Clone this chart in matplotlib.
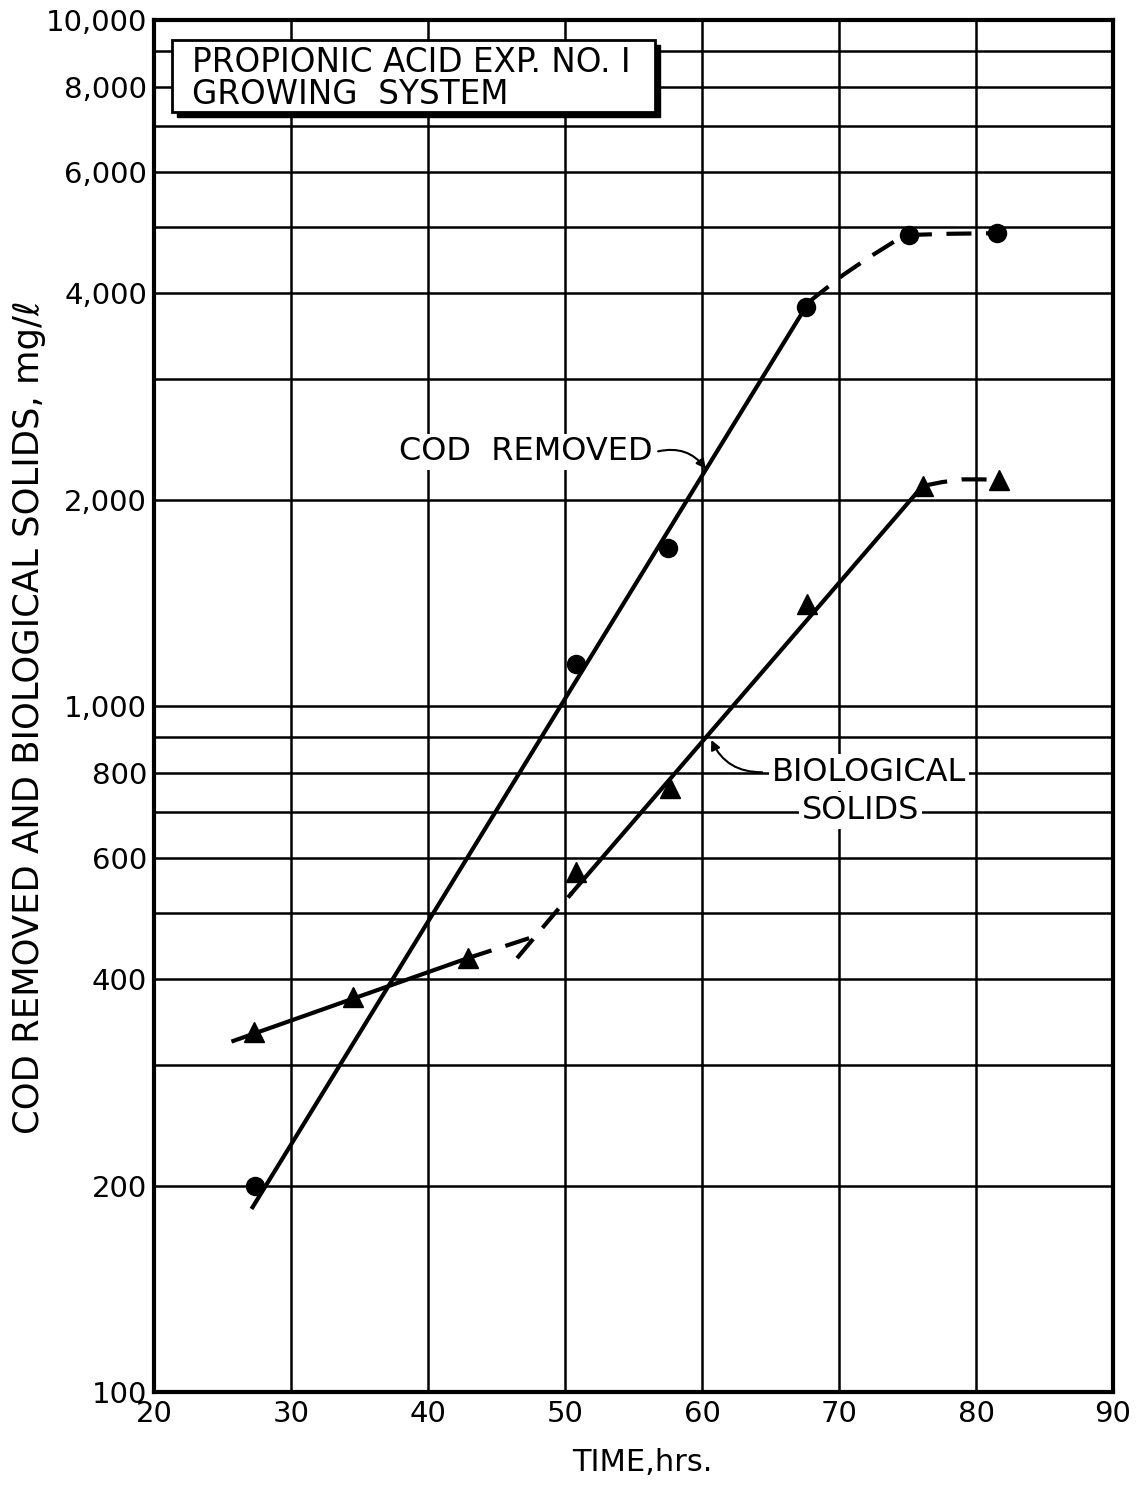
import matplotlib
matplotlib.use("Agg")
import matplotlib.pyplot as plt
from matplotlib.patches import Rectangle
from matplotlib.ticker import FixedLocator, NullLocator

# measured points (time in hrs, mg/l)
cod_t = [27.4, 50.8, 57.5, 67.6, 75.1, 81.5]
cod_v = [200, 1150, 1700, 3820, 4860, 4890]
bio_t = [27.3, 34.5, 42.9, 50.8, 57.7, 67.7, 76.1, 81.7]
bio_v = [335, 376, 429, 573, 760, 1408, 2093, 2135]

# hand drawn trend lines
cod_fit_t = [27.2, 67.8]
cod_fit_v = [186, 3882]
cod_dash_t = [67.8, 68.9, 70.3, 72.2, 74.0, 75.1, 78.0, 81.5]
cod_dash_v = [3882, 4040, 4250, 4510, 4750, 4860, 4880, 4890]

bio_fit1_t = [25.8, 42.9]
bio_fit1_v = [325, 429]
bio_dash1_t = [42.9, 48.0]
bio_dash1_v = [429, 463]
bio_dash2_t = [46.5, 50.5]
bio_dash2_v = [429, 534]
bio_fit2_t = [50.5, 76.1]
bio_fit2_v = [534, 2093]
bio_dash3_t = [76.1, 77.5, 79.0, 80.5, 81.7]
bio_dash3_v = [2093, 2120, 2140, 2140, 2135]

x_ticks = [20, 30, 40, 50, 60, 70, 80, 90]
y_ticks = [100, 200, 400, 600, 800, 1000, 2000, 4000, 6000, 8000, 10000]
y_labels = ["100", "200", "400", "600", "800", "1,000", "2,000", "4,000",
            "6,000", "8,000", "10,000"]
y_grid = [200, 300, 400, 500, 600, 700, 800, 900, 1000,
          2000, 3000, 4000, 5000, 6000, 7000, 8000, 9000]

plt.rcParams['font.family'] = ['DejaVu Sans']

fig = plt.figure(figsize=(11.37, 14.85), dpi=100)
ax = fig.add_axes([0.1354, 0.0626, 0.8435, 0.9239])
ax.set_yscale('log')
ax.set_xlim(20, 90)
ax.set_ylim(100, 10000)

# grid
for x in x_ticks[1:-1]:
    ax.axvline(x, color='k', lw=1.8, zorder=1)
for y in y_grid:
    ax.axhline(y, color='k', lw=1.8, zorder=1)

for s in ax.spines.values():
    s.set_linewidth(3)

ax.xaxis.set_major_locator(FixedLocator(x_ticks))
ax.yaxis.set_major_locator(FixedLocator(y_ticks))
ax.yaxis.set_minor_locator(NullLocator())
ax.set_yticklabels(y_labels)
ax.tick_params(axis='both', length=0, labelsize=21, pad=6)
ax.tick_params(axis='y', pad=5)

ax.set_xlabel("TIME,hrs.", fontsize=22)
ax.xaxis.set_label_coords(0.509, -0.041)
ax.set_ylabel("COD REMOVED AND BIOLOGICAL SOLIDS, mg/ℓ", fontsize=25.5)
ax.yaxis.set_label_coords(-0.113, 0.492)

# trend lines
lw = 3
dash = (0, (6, 3.5))
ax.plot(cod_fit_t, cod_fit_v, color='k', lw=lw, zorder=3)
ax.plot(cod_dash_t, cod_dash_v, color='k', lw=lw, ls=dash, zorder=3)
ax.plot(bio_fit1_t, bio_fit1_v, color='k', lw=lw, zorder=3)
ax.plot(bio_dash1_t, bio_dash1_v, color='k', lw=lw, ls=dash, zorder=3)
ax.plot(bio_dash2_t, bio_dash2_v, color='k', lw=lw, ls=dash, zorder=3)
ax.plot(bio_fit2_t, bio_fit2_v, color='k', lw=lw, zorder=3)
ax.plot(bio_dash3_t, bio_dash3_v, color='k', lw=lw, ls=dash, zorder=3)

# data points
ax.plot(cod_t, cod_v, 'o', color='k', ms=13, zorder=4)
ax.plot(bio_t, bio_v, '^', color='k', ms=14, zorder=4)

# labels with leaders
wb = dict(facecolor='white', edgecolor='none', pad=2)
ax.text(56.4, 2346, "COD  REMOVED", fontsize=23, ha='right', va='center',
        bbox=wb, zorder=5)
ax.annotate('', xy=(60.4, 2200), xytext=(56.6, 2346),
            arrowprops=dict(arrowstyle='-|>', color='k', lw=1.5,
                            connectionstyle='arc3,rad=-0.35',
                            mutation_scale=14), zorder=5)
ax.text(72.2, 801, "BIOLOGICAL", fontsize=23, ha='center', va='center',
        bbox=wb, zorder=5)
ax.text(71.6, 705, "SOLIDS", fontsize=23, ha='center', va='center',
        bbox=wb, zorder=5)
ax.annotate('', xy=(60.6, 900), xytext=(64.6, 801),
            arrowprops=dict(arrowstyle='-|>', color='k', lw=1.5,
                            connectionstyle='arc3,rad=-0.35',
                            mutation_scale=14), zorder=5)

# title box with drop shadow (figure pixel coordinates)
W, H = 1137, 1485
bx0, bx1, by0, by1 = 172, 655, 40, 112
fig.patches.append(Rectangle(((bx0 + 5) / W, 1 - (by1 + 5) / H),
                             (bx1 - bx0) / W, (by1 - by0) / H,
                             transform=fig.transFigure, facecolor='k',
                             edgecolor='k', zorder=6))
fig.patches.append(Rectangle((bx0 / W, 1 - by1 / H),
                             (bx1 - bx0) / W, (by1 - by0) / H,
                             transform=fig.transFigure, facecolor='white',
                             edgecolor='k', lw=2, zorder=7))
fig.text(192 / W, 1 - 62 / H, "PROPIONIC ACID EXP. NO. I", fontsize=23.5,
         ha='left', va='center', zorder=8)
fig.text(192 / W, 1 - 95 / H, "GROWING  SYSTEM", fontsize=23.5,
         ha='left', va='center', zorder=8)

fig.savefig("out.png", dpi=100, facecolor='white')
